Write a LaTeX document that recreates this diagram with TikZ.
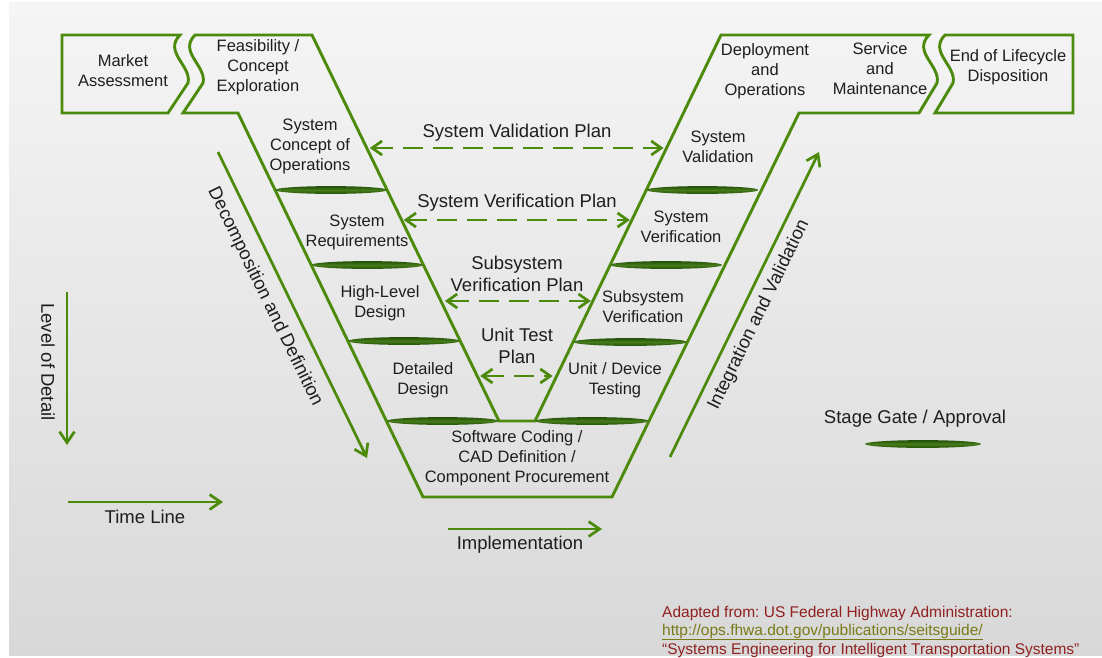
\documentclass[tikz,border=0pt]{standalone}
\usepackage{fontspec}
\setmainfont{Liberation Sans}
\usetikzlibrary{arrows.meta,calc}
\definecolor{vgreen}{RGB}{76,138,12}
\definecolor{gdark}{RGB}{34,80,6}
\definecolor{gmid}{RGB}{70,122,26}
\definecolor{txt}{RGB}{30,30,30}
\definecolor{credred}{RGB}{145,32,32}
\definecolor{credolive}{RGB}{122,122,24}
\definecolor{bgtop}{RGB}{245,245,245}
\definecolor{bgbot}{RGB}{216,216,216}
\frenchspacing
\begin{document}
\begin{tikzpicture}[x=1pt,y=-1pt,
  vline/.style={draw=vgreen,line width=2.9pt,line join=miter},
  lbl/.style={text=txt,font=\fontsize{16.5}{20}\selectfont,align=center,inner sep=0pt},
  big/.style={text=txt,font=\fontsize{18.5}{22}\selectfont,align=center,inner sep=0pt},
  cred/.style={font=\fontsize{15.5}{18}\selectfont,anchor=west,inner sep=0pt},
  planarrow/.style={draw=vgreen,line width=2.7pt,dash pattern=on 20pt off 10pt,
    {Straight Barb[length=10pt,width=14pt]}-{Straight Barb[length=10pt,width=14pt]}},
  axisarrow/.style={draw=vgreen,line width=2.7pt,-{Straight Barb[length=11pt,width=15pt]}},
  gate/.style={top color=gdark,bottom color=gdark,middle color=gmid},
]
\useasboundingbox (0,0) rectangle (1102,657);
\fill[white] (0,0) rectangle (1102,657);
\shade[top color=bgtop,bottom color=bgbot] (9,2) rectangle (1102,655);

% V vertices
\coordinate (LIt) at (312,35);
\coordinate (LIb) at (499,421);
\coordinate (RIt) at (721,35);
\coordinate (RIb) at (535,421);

% Market assessment box
\draw[vline] (62,35) -- (180,35) .. controls (163,52) and (192,66) .. (188,83)
  -- (168,113) -- (62,113) -- cycle;
% Main V shape
\draw[vline] (195,35) -- (LIt) -- (LIb) -- (RIb) -- (RIt) -- (929,35)
  .. controls (912,52) and (941,66) .. (937,83) -- (919,113) -- (799,113)
  -- (612,497) -- (423,497) -- (238,113) -- (183,113) -- (203,83)
  .. controls (207,66) and (178,52) .. (195,35) -- cycle;
% End of lifecycle box
\draw[vline] (945,35) -- (1073,35) -- (1073,113) -- (935,113) -- (953,83)
  .. controls (957,66) and (928,52) .. (945,35) -- cycle;

% stage gates
\shade[gate] (331.1,190) ellipse [x radius=56,y radius=3.9];
\shade[gate] (367.3,265) ellipse [x radius=56,y radius=3.9];
\shade[gate] (404.0,341) ellipse [x radius=56,y radius=3.9];
\shade[gate] (442.7,421) ellipse [x radius=56,y radius=3.9];
\shade[gate] (702.4,190) ellipse [x radius=56,y radius=3.9];
\shade[gate] (666.1,265) ellipse [x radius=56,y radius=3.9];
\shade[gate] (630.3,342) ellipse [x radius=57,y radius=3.9];
\shade[gate] (592.0,421) ellipse [x radius=57,y radius=3.9];
\shade[gate] (923,444) ellipse [x radius=58,y radius=3.9];

% stage labels
\node[lbl] (ma) at (123,71) {Market\\Assessment};
\node[lbl] (fe) at (258,67) {Feasibility /\\Concept\\Exploration};
\node[lbl] (sco) at (310,146) {System\\Concept of\\Operations};
\node[lbl] (sr) at (357,232) {System\\Requirements};
\node[lbl] (hld) at (380,303) {High-Level\\Design};
\node[lbl] (dd) at (423,380) {Detailed\\Design};
\node[lbl] (sw) at (517,458) {Software Coding /\\CAD Definition /\\Component Procurement};
\node[lbl] (ut) at (615,380) {Unit / Device\\Testing};
\node[lbl] (sv) at (643,307) {Subsystem\\Verification};
\node[lbl] (syv) at (681,227) {System\\Verification};
\node[lbl] (sval) at (718,147) {System\\Validation};
\node[lbl] (dep) at (765,71) {Deployment\\and\\Operations};
\node[lbl] (svc) at (880,69) {Service\\and\\Maintenance};
\node[lbl] (eol) at (1008,67) {End of Lifecycle\\Disposition};

% plan labels
\node[big] (svp) at (517,133) {System Validation Plan};
\node[big] (sverp) at (517,203) {System Verification Plan};
\node[big] (ssvp) at (517,274) {Subsystem\\Verification Plan};
\node[big] (utp) at (517,346) {Unit Test\\Plan};

% plan arrows
\coordinate (p1l) at ($(LIt)!0.2927!(LIb)$);
\coordinate (p1r) at ($(RIt)!0.2927!(RIb)$);
\coordinate (p2l) at ($(LIt)!0.4793!(LIb)$);
\coordinate (p2r) at ($(RIt)!0.4793!(RIb)$);
\coordinate (p3l) at ($(LIt)!0.6891!(LIb)$);
\coordinate (p3r) at ($(RIt)!0.6891!(RIb)$);
\coordinate (p4l) at ($(LIt)!0.8834!(LIb)$);
\coordinate (p4r) at ($(RIt)!0.8834!(RIb)$);
\draw[planarrow,shorten <=3pt,shorten >=3pt] (p1l) -- (p1r);
\draw[planarrow,shorten <=2pt,shorten >=2pt] (p2l) -- (p2r);
\draw[planarrow,shorten <=4pt,shorten >=2pt] (p3l) -- (p3r);
\draw[planarrow,shorten <=3pt,shorten >=4pt] (p4l) -- (p4r);

% axis arrows
\coordinate (decS) at (218,152);
\coordinate (decE) at (367,458);
\coordinate (lodS) at (67,292);
\coordinate (lodE) at (67,445);
\coordinate (timS) at (68,502);
\coordinate (timE) at (223,502);
\coordinate (impS) at (448,529);
\coordinate (impE) at (602,529);
\coordinate (intS) at (670,457);
\coordinate (intE) at (819,152);
\draw[axisarrow] (decS) -- (decE);
\draw[axisarrow] (lodS) -- (lodE);
\draw[axisarrow] (timS) -- (timE);
\draw[axisarrow] (impS) -- (impE);
\draw[axisarrow] (intS) -- (intE);

\node[big,rotate=-64] (dec) at (265,297) {Decomposition and Definition};
\node[big,rotate=-90] (lod) at (48,362) {Level of Detail};
\node[big] (tim) at (145,517) {Time Line};
\node[big] (imp) at (520,545) {Implementation};
\node[big,rotate=64] (intg) at (759,315) {Integration and Validation};
\node[big] (stg) at (915,419) {Stage Gate / Approval};

% credits
\node[cred,text=credred] (c1) at (662,613) {Adapted from: US Federal Highway Administration:};
\node[cred,text=credolive] (c2) at (662,632) {\underline{http://ops.fhwa.dot.gov/publications/seitsguide/}};
\node[cred,text=credred] (c3) at (662,650) {“Systems Engineering for Intelligent Transportation Systems”};
\end{tikzpicture}
\end{document}
